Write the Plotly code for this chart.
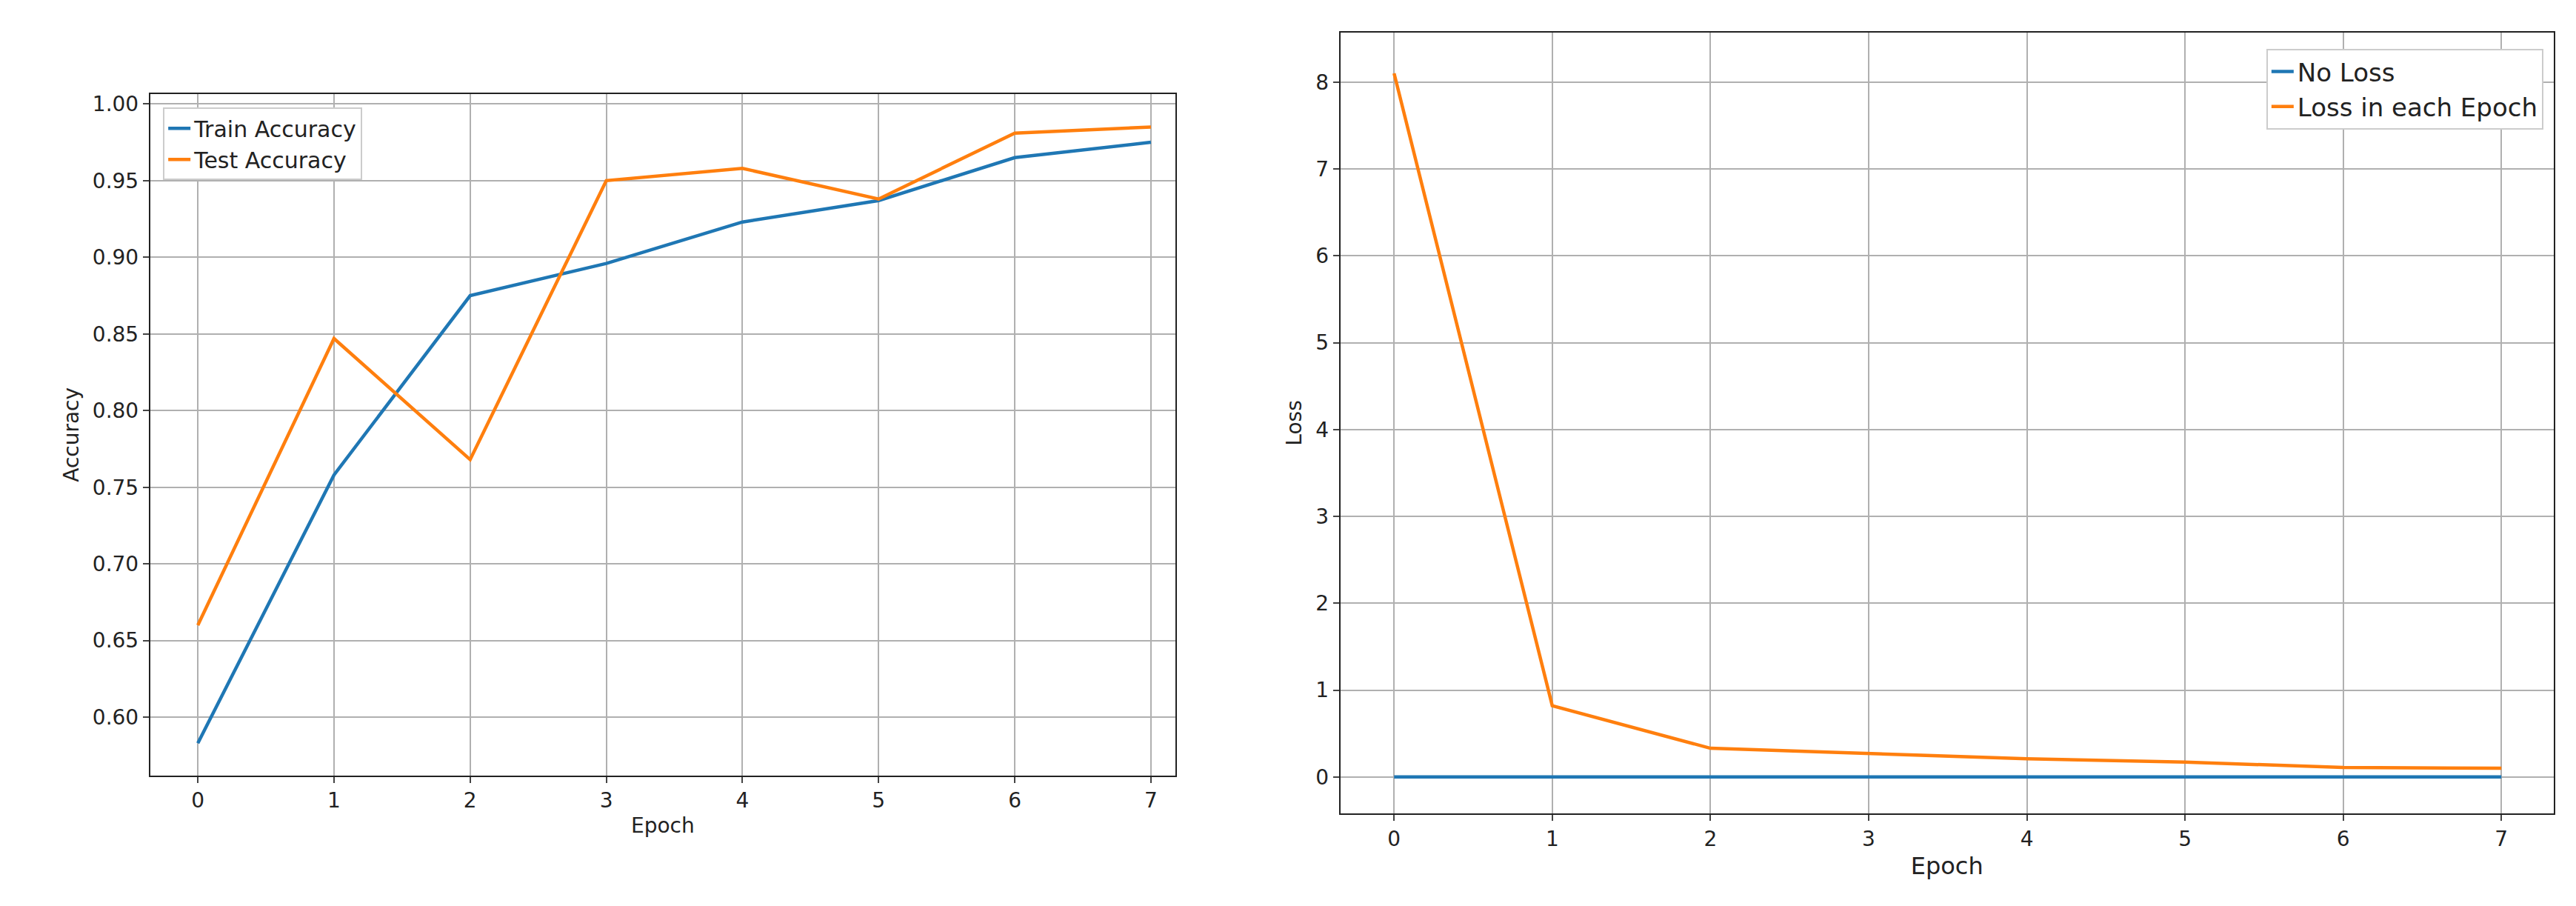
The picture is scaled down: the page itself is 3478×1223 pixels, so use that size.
import plotly.graph_objects as go

epochs = [0, 1, 2, 3, 4, 5, 6, 7]
train_acc = [0.583, 0.758, 0.875, 0.896, 0.923, 0.937, 0.965, 0.975]
test_acc = [0.660, 0.847, 0.768, 0.950, 0.958, 0.938, 0.981, 0.985]
no_loss = [0, 0, 0, 0, 0, 0, 0, 0]
loss = [8.1, 0.82, 0.33, 0.27, 0.21, 0.17, 0.11, 0.10]

BLUE = "#1f77b4"
ORANGE = "#ff7f0e"
FONT = dict(family="DejaVu Sans", size=28, color="#222")

fig = go.Figure()
fig.add_trace(go.Scatter(x=epochs, y=train_acc, mode="lines", name="Train Accuracy",
                         line=dict(color=BLUE, width=4.5), xaxis="x", yaxis="y", legend="legend"))
fig.add_trace(go.Scatter(x=epochs, y=test_acc, mode="lines", name="Test Accuracy",
                         line=dict(color=ORANGE, width=4.5), xaxis="x", yaxis="y", legend="legend"))
fig.add_trace(go.Scatter(x=epochs, y=no_loss, mode="lines", name="No Loss",
                         line=dict(color=BLUE, width=4.5), xaxis="x2", yaxis="y2", legend="legend2"))
fig.add_trace(go.Scatter(x=epochs, y=loss, mode="lines", name="Loss in each Epoch",
                         line=dict(color=ORANGE, width=4.5), xaxis="x2", yaxis="y2", legend="legend2"))

ax = dict(showgrid=True, gridcolor="#b0b0b0", gridwidth=2, showline=True, mirror=True,
          linecolor="#222", linewidth=2, ticks="outside", ticklen=8, tickwidth=2,
          tickfont=FONT, zeroline=False)

fig.update_layout(
    width=3478, height=1223, plot_bgcolor="white", paper_bgcolor="white",
    margin=dict(l=0, r=0, t=0, b=0), font=FONT,
    xaxis=dict(ax, domain=[0.056, 0.454], range=[-0.35, 7.18], dtick=1,
               title=dict(text="Epoch", font=FONT, standoff=8), anchor="y"),
    yaxis=dict(ax, domain=[0.151, 0.905], range=[0.562, 1.0065], dtick=0.05, tickformat=".2f",
               title=dict(text="Accuracy", font=FONT, standoff=10), anchor="x"),
    xaxis2=dict(ax, domain=[0.518, 0.989], range=[-0.34, 7.33], dtick=1,
                title=dict(text="Epoch", font=dict(FONT, size=32), standoff=10), anchor="y2"),
    yaxis2=dict(ax, domain=[0.109, 0.973], range=[-0.42, 8.57], dtick=1,
                title=dict(text="Loss", font=FONT, standoff=10), anchor="x2"),
    legend=dict(x=0.061, y=0.89, xanchor="left", yanchor="top", bgcolor="white",
                bordercolor="#ccc", borderwidth=2, font=dict(FONT, size=30)),
    legend2=dict(x=0.985, y=0.955, xanchor="right", yanchor="top", bgcolor="white",
                 bordercolor="#ccc", borderwidth=2, font=dict(FONT, size=34)),
)

fig.write_html("out.html")
